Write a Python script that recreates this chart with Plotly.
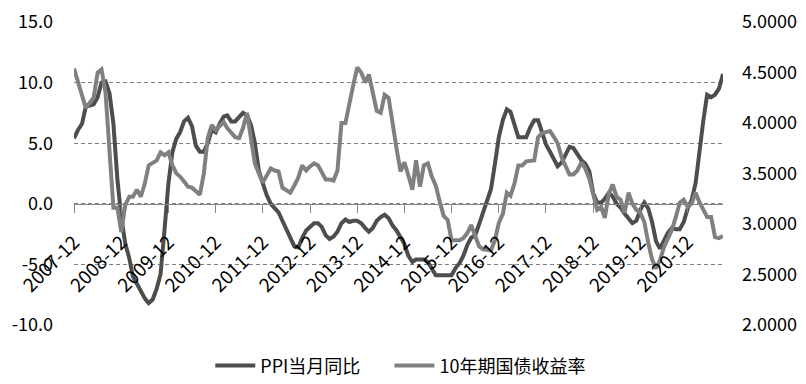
import pandas as pd
import plotly.graph_objects as go

start_month = "2007-12-01"
ppi = [5.4,
       6.1, 6.6, 8.0, 8.1, 8.2, 8.8, 10.0, 10.1, 9.1, 6.6, 2.0, -1.1,
       -3.3, -4.5, -6.0, -6.6, -7.2, -7.8, -8.2, -7.9, -7.0, -5.8, -2.1, 1.7,
       4.3, 5.4, 5.9, 6.8, 7.1, 6.4, 4.8, 4.3, 4.3, 5.0, 6.1, 5.9,
       6.6, 7.2, 7.3, 6.8, 6.8, 7.1, 7.5, 7.3, 6.5, 5.0, 2.7, 1.7,
       0.7, 0.0, -0.3, -0.7, -1.4, -2.1, -2.9, -3.5, -3.6, -2.8, -2.2, -1.9,
       -1.6, -1.6, -1.9, -2.6, -2.9, -2.7, -2.3, -1.6, -1.3, -1.5, -1.4, -1.4,
       -1.6, -2.0, -2.3, -2.0, -1.4, -1.1, -0.9, -1.2, -1.8, -2.2, -2.7, -3.3,
       -4.3, -4.8, -4.6, -4.6, -4.6, -4.8, -5.4, -5.9, -5.9, -5.9, -5.9, -5.9,
       -5.3, -4.9, -4.3, -3.4, -2.8, -2.6, -1.7, -0.8, 0.1, 1.2, 3.3, 5.5,
       6.9, 7.8, 7.6, 6.4, 5.5, 5.5, 5.5, 6.3, 6.9, 6.9, 5.8, 4.9,
       4.3, 3.7, 3.1, 3.4, 4.1, 4.7, 4.6, 4.1, 3.6, 3.3, 2.7, 0.9,
       0.1, 0.1, 0.4, 0.9, 0.6, 0.0, -0.3, -0.8, -1.2, -1.6, -1.4, -0.5,
       0.1, -0.4, -1.5, -3.1, -3.7, -3.0, -2.4, -2.0, -2.1, -2.1, -1.5, -0.4,
       0.3, 1.7, 4.4, 6.8, 9.0, 8.8, 9.0, 9.5, 10.7]

bond10y = [4.54,
           4.40, 4.25, 4.15, 4.20, 4.25, 4.50, 4.53, 4.30, 3.70, 3.16, 3.16, 2.92,
           3.19, 3.27, 3.27, 3.34, 3.27, 3.40, 3.58, 3.60, 3.63, 3.71, 3.68, 3.71,
           3.58, 3.50, 3.47, 3.42, 3.37, 3.36, 3.33, 3.29, 3.50, 3.85, 3.98, 3.93,
           3.97, 4.01, 3.95, 3.90, 3.86, 3.85, 3.95, 4.10, 3.85, 3.60, 3.50, 3.41,
           3.48, 3.55, 3.53, 3.52, 3.36, 3.33, 3.31, 3.38, 3.46, 3.58, 3.53, 3.57,
           3.60, 3.58, 3.52, 3.44, 3.44, 3.43, 3.53, 4.00, 4.00, 4.20, 4.38, 4.55,
           4.50, 4.40, 4.48, 4.30, 4.12, 4.10, 4.28, 4.25, 3.98, 3.75, 3.52, 3.61,
           3.48, 3.34, 3.63, 3.37, 3.58, 3.60, 3.47, 3.38, 3.22, 3.08, 3.04, 2.84,
           2.84, 2.84, 2.86, 2.91, 2.99, 2.87, 2.78, 2.75, 2.74, 2.74, 2.84, 3.01,
           3.10, 3.31, 3.28, 3.40, 3.58, 3.58, 3.62, 3.63, 3.63, 3.86, 3.90, 3.91,
           3.92, 3.86, 3.80, 3.66, 3.58, 3.49, 3.49, 3.53, 3.61, 3.55, 3.45, 3.30,
           3.14, 3.17, 3.06, 3.30, 3.39, 3.27, 3.24, 3.11, 3.31, 3.20, 3.14, 3.11,
           3.02, 2.81, 2.65, 2.56, 2.64, 2.77, 2.85, 2.94, 3.07, 3.21, 3.24, 3.17,
           3.20, 3.31, 3.22, 3.14, 3.07, 3.07, 2.87, 2.86, 2.88]

months = pd.date_range(start_month, periods=len(ppi), freq="MS")

left_tickvals = [-10, -5, 0, 5, 10, 15]
left_ticktext = ["-10.0", "-5.0", "0.0", "5.0", "10.0", "15.0"]
right_tickvals = [2.0, 2.5, 3.0, 3.5, 4.0, 4.5, 5.0]
right_ticktext = ["2.0000", "2.5000", "3.0000", "3.5000", "4.0000", "4.5000", "5.0000"]
series_names = ["PPI当月同比", "10年期国债收益率"]

FONT = "Noto Sans CJK SC, Noto Sans, sans-serif"

fig = go.Figure()
fig.add_trace(go.Scatter(x=months, y=ppi, name=series_names[0], mode="lines",
                         line=dict(color="#4d4d4d", width=4), yaxis="y",
                         legend="legend"))
fig.add_trace(go.Scatter(x=months, y=bond10y, name=series_names[1], mode="lines",
                         line=dict(color="#808080", width=4), yaxis="y2",
                         legend="legend2"))

legend_common = dict(orientation="h", xanchor="left", y=-0.135, yanchor="middle",
                     font=dict(size=18), bgcolor="rgba(0,0,0,0)", itemwidth=40)

fig.update_layout(
    width=806, height=384,
    margin=dict(l=74, r=83, t=22, b=59, autoexpand=False),
    paper_bgcolor="white", plot_bgcolor="white",
    font=dict(family=FONT, size=18, color="#000000"),
    showlegend=True,
    legend=dict(x=0.21, **legend_common),
    legend2=dict(x=0.486, **legend_common),
    xaxis=dict(
        type="date",
        range=[months[0], months[-1]],
        anchor="free", position=0.4, automargin=False,
        showline=True, linecolor="#868686", linewidth=1,
        ticks="outside", ticklen=8, tickcolor="#868686",
        tick0=start_month, dtick="M12", tickformat="%Y-%m",
        tickangle=-45, ticklabelstandoff=11,
        showgrid=False, zeroline=False,
        tickfont=dict(size=19),
    ),
    yaxis=dict(
        range=[-10, 15], tickvals=left_tickvals, ticktext=left_ticktext,
        showgrid=True, gridcolor="#7f7f7f", griddash="4px,3px", gridwidth=1,
        zeroline=False, showline=False, ticks="", ticklabelstandoff=20,
        tickfont=dict(size=18), automargin=False,
    ),
    yaxis2=dict(
        range=[2.0, 5.0], tickvals=right_tickvals, ticktext=right_ticktext,
        overlaying="y", side="right", showgrid=False, zeroline=False,
        showline=False, ticks="", ticklabelstandoff=18,
        tickfont=dict(size=18), automargin=False,
    ),
)

fig.write_html("out.html", config={"displayModeBar": False},
               post_script="document.body.style.margin='0';")
